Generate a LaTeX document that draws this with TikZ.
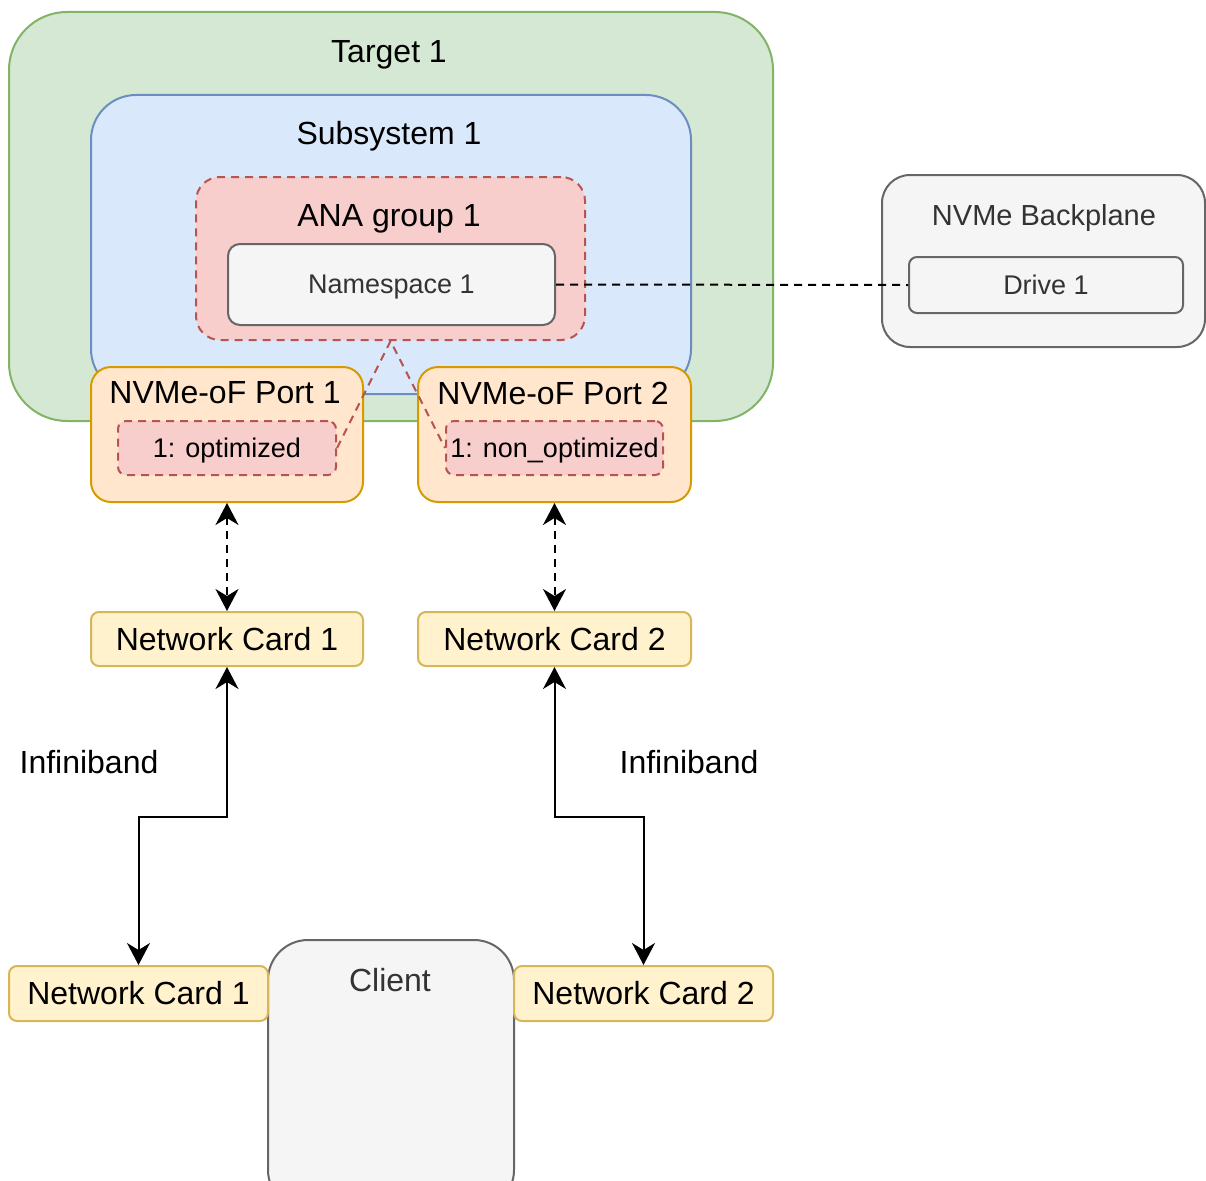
\documentclass[tikz,border=0pt]{standalone}
\usepackage{fontspec}
\setmainfont{Liberation Sans}
\usetikzlibrary{arrows.meta}
\definecolor{tgfill}{HTML}{D5E8D4}\definecolor{tgline}{HTML}{82B366}
\definecolor{ssfill}{HTML}{DAE8FC}\definecolor{ssline}{HTML}{6C8EBF}
\definecolor{anafill}{HTML}{F8CECC}\definecolor{analine}{HTML}{B85450}
\definecolor{grfill}{HTML}{F5F5F5}\definecolor{grline}{HTML}{666666}\definecolor{grtext}{HTML}{333333}
\definecolor{ptfill}{HTML}{FFE6CC}\definecolor{ptline}{HTML}{D79B00}
\definecolor{ncfill}{HTML}{FFF2CC}\definecolor{ncline}{HTML}{D6B656}
\tikzset{
  box/.style={draw, line width=2pt, inner sep=0pt, rectangle},
  big/.style={font=\fontsize{32}{38}\selectfont},
  small/.style={font=\fontsize{27}{32}\selectfont},
  mid/.style={font=\fontsize{29}{35}\selectfont},
  dashline/.style={dash pattern=on 8pt off 6pt},
  redbox/.style={box, fill=anafill, draw=analine, dashline},
  greybox/.style={box, fill=grfill, draw=grline, text=grtext},
  portbox/.style={box, fill=ptfill, draw=ptline, rounded corners=20pt},
  cardbox/.style={box, fill=ncfill, draw=ncline, rounded corners=8pt, big},
  bitip/.style={{Stealth[length=22pt,width=23pt,inset=7pt]}-{Stealth[length=22pt,width=23pt,inset=7pt]}},
}
\begin{document}
\begin{tikzpicture}[x=1pt,y=-1pt]
\useasboundingbox (0,0) rectangle (1206,1180);
\clip (0,0) rectangle (1206,1180);
% target, subsystem and ANA group containers
\node[box, fill=tgfill, draw=tgline, rounded corners=58pt, minimum width=764pt, minimum height=409pt] (target) at (391,216.5) {};
\node[big] (targetlbl) at (389,55) {Target 1};
\node[box, fill=ssfill, draw=ssline, rounded corners=45pt, minimum width=600pt, minimum height=299pt] (subsys) at (391,244.5) {};
\node[big] (subsyslbl) at (389,136) {Subsystem 1};
\node[redbox, rounded corners=24pt, minimum width=389pt, minimum height=163pt] (ana) at (390.5,258.5) {};
\node[big] (analbl) at (389,219) {ANA group 1};
\node[greybox, small, rounded corners=12pt, minimum width=327pt, minimum height=81pt, text depth=1pt] (ns) at (391.5,284.5) {Namespace 1};
% ports
\node[portbox, minimum width=272pt, minimum height=135pt] (port1) at (227,434.5) {};
\node[big] (port1lbl) at (225,393) {NVMe-oF Port 1};
\node[redbox, small, rounded corners=8pt, minimum width=218pt, minimum height=54pt, text depth=1pt] (in1) at (227,448) {1: optimized};
\node[portbox, minimum width=273pt, minimum height=135pt] (port2) at (554.5,434.5) {};
\node[big] (port2lbl) at (553,393) {NVMe-oF Port 2};
\node[redbox, small, rounded corners=8pt, minimum width=217pt, minimum height=54pt, text depth=1pt] (in2) at (554.5,448) {1: non\_optimized};
\draw[analine, line width=2pt, dashline] (in1.east) -- (ana.south) -- (in2.west);
% backplane
\node[greybox, rounded corners=28pt, minimum width=323pt, minimum height=172pt] (bp) at (1043.5,261) {};
\node[mid, text=grtext] (bplbl) at (1044,218) {NVMe Backplane};
\node[greybox, small, rounded corners=8pt, minimum width=274pt, minimum height=56pt] (drive) at (1046,285) {Drive 1};
\draw[line width=2pt, dashline] (ns.east) -- (drive.west);
% network cards
\node[cardbox, minimum width=272pt, minimum height=54pt] (nc1t) at (227,639) {Network Card 1};
\node[cardbox, minimum width=273pt, minimum height=54pt] (nc2t) at (554.5,639) {Network Card 2};
\draw[bitip, line width=2pt, dashline] (port1.south) -- (nc1t.north);
\draw[bitip, line width=2pt, dashline] (port2.south) -- (nc2t.north);
% client side
\node[greybox, rounded corners=40pt, minimum width=246pt, minimum height=270pt] (client) at (391,1075) {};
\node[big, text=grtext] (clientlbl) at (390,980) {Client};
\node[cardbox, minimum width=259pt, minimum height=55pt] (nc1b) at (138.5,993.5) {Network Card 1};
\node[cardbox, minimum width=259pt, minimum height=55pt] (nc2b) at (643.5,993.5) {Network Card 2};
\coordinate (m1) at (183,817);
\coordinate (m2) at (599,817);
\draw[bitip, line width=2pt] (nc1t.south) |- (m1) -| (nc1b.north);
\draw[bitip, line width=2pt] (nc2t.south) |- (m2) -| (nc2b.north);
\node[big] (ib1) at (89,762) {Infiniband};
\node[big] (ib2) at (689,762) {Infiniband};
\end{tikzpicture}
\end{document}
